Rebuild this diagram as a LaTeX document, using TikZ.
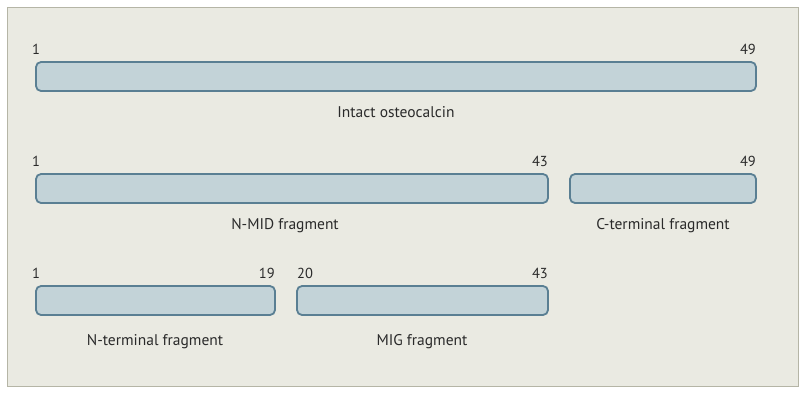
\documentclass[tikz,border=0pt]{standalone}
\usepackage{fontspec}
\setmainfont{PT Sans}
\definecolor{bg}{HTML}{EAEAE2}
\definecolor{frame}{HTML}{B5B5A6}
\definecolor{barfill}{HTML}{C3D3D8}
\definecolor{barline}{HTML}{5A7F93}
\definecolor{txt}{HTML}{2A2A2A}
\tikzset{
  bar/.style={draw=barline, fill=barfill, line width=1.8pt, rounded corners=5pt},
  num/.style={font=\fontsize{14.5}{16}\selectfont, text=txt, inner sep=0pt},
  lbl/.style={font=\fontsize{15.5}{18}\selectfont, text=txt, inner sep=0pt},
}
\begin{document}
\begin{tikzpicture}[x=1pt,y=-1pt]
\useasboundingbox (0,0) rectangle (806,394);
\fill[white] (0,0) rectangle (806,394);
\draw[fill=bg, draw=frame, line width=1.5pt] (7.5,7.5) rectangle (798.5,386.5);
% row 1
\draw[bar] (36,62) rectangle (756,91);
\node[num, anchor=base west] (n1a) at (32,54) {1};
\node[num, anchor=base east] (n1b) at (756,54) {49};
\node[lbl, anchor=base] (t1) at (396,117.5) {Intact osteocalcin};
% row 2
\draw[bar] (36,174) rectangle (548,203);
\draw[bar] (570,174) rectangle (756,203);
\node[num, anchor=base west] (n2a) at (32,166) {1};
\node[num, anchor=base east] (n2b) at (548,166) {43};
\node[num, anchor=base east] (n2c) at (756,166) {49};
\node[lbl, anchor=base] (t2) at (285,229.5) {N-MID fragment};
\node[lbl, anchor=base] (t3) at (663,229.5) {C-terminal fragment};
% row 3
\draw[bar] (36,286) rectangle (275,315);
\draw[bar] (297,286) rectangle (548,315);
\node[num, anchor=base west] (n3a) at (32,278) {1};
\node[num, anchor=base east] (n3b) at (275,278) {19};
\node[num, anchor=base west] (n3c) at (297,278) {20};
\node[num, anchor=base east] (n3d) at (548,278) {43};
\node[lbl, anchor=base] (t4) at (155,345.5) {N-terminal fragment};
\node[lbl, anchor=base] (t5) at (422,345.5) {MIG fragment};
\end{tikzpicture}
\end{document}
